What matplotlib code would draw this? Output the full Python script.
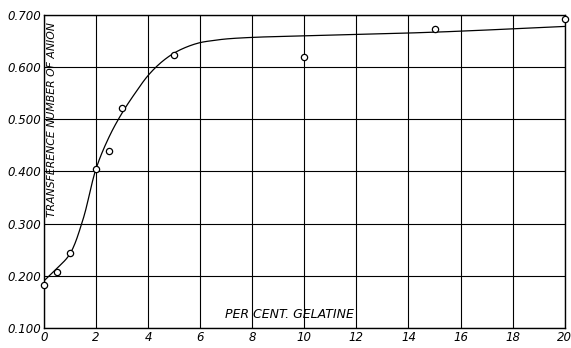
import matplotlib
matplotlib.use("Agg")
import matplotlib.pyplot as plt
import numpy as np

# measured points
gelatine_pct = [0, 0.5, 1, 2, 2.5, 3, 5, 10, 15, 20]
transference = [0.183, 0.208, 0.243, 0.405, 0.440, 0.522, 0.623, 0.620, 0.674, 0.692]

# hand-drawn smooth curve
curve_x = [0, 0.5, 1, 1.5, 2, 2.5, 3, 3.5, 4, 4.5, 5, 5.5, 6, 6.5, 7, 8, 10, 15, 20]
curve_y = [0.190, 0.214, 0.242, 0.308, 0.405, 0.466, 0.512, 0.550, 0.584, 0.609,
           0.627, 0.639, 0.647, 0.651, 0.654, 0.657, 0.660, 0.667, 0.678]

x_ticks = [0, 2, 4, 6, 8, 10, 12, 14, 16, 18, 20]
y_ticks = [0.1, 0.2, 0.3, 0.4, 0.5, 0.6, 0.7]
y_tick_labels = ["0.100", "0.200", "0.300", "0.400", "0.500", "0.600", "0.700"]


def catmull_rom(xs, ys, n=20):
    # centripetal Catmull-Rom through the knots, in screen-ish units
    sx, sy = 26.0, 521.7
    p = np.column_stack([np.array(xs) * sx, np.array(ys) * sy])
    p = np.vstack([2 * p[0] - p[1], p, 2 * p[-1] - p[-2]])
    out = []
    for i in range(1, len(p) - 2):
        p0, p1, p2, p3 = p[i - 1], p[i], p[i + 1], p[i + 2]
        t0 = 0.0
        t1 = t0 + np.linalg.norm(p1 - p0) ** 0.5
        t2 = t1 + np.linalg.norm(p2 - p1) ** 0.5
        t3 = t2 + np.linalg.norm(p3 - p2) ** 0.5
        for t in np.linspace(t1, t2, n, endpoint=False):
            a1 = (t1 - t) / (t1 - t0) * p0 + (t - t0) / (t1 - t0) * p1
            a2 = (t2 - t) / (t2 - t1) * p1 + (t - t1) / (t2 - t1) * p2
            a3 = (t3 - t) / (t3 - t2) * p2 + (t - t2) / (t3 - t2) * p3
            b1 = (t2 - t) / (t2 - t0) * a1 + (t - t0) / (t2 - t0) * a2
            b2 = (t3 - t) / (t3 - t1) * a2 + (t - t1) / (t3 - t1) * a3
            out.append((t2 - t) / (t2 - t1) * b1 + (t - t1) / (t2 - t1) * b2)
    out.append(p[-2])
    out = np.array(out)
    return out[:, 0] / sx, out[:, 1] / sy


fig = plt.figure(figsize=(5.71, 3.48), dpi=100)
ax = fig.add_axes([0.077, 0.058, 0.912, 0.899])

ax.set_xlim(0, 20)
ax.set_ylim(0.1, 0.7)
ax.set_xticks(x_ticks)
ax.set_xticklabels([str(v) for v in x_ticks], fontstyle="italic", fontsize=8.5)
ax.set_yticks(y_ticks)
ax.set_yticklabels(y_tick_labels, fontstyle="italic", fontsize=8.5)
ax.tick_params(length=0, pad=2)
ax.grid(True, color="black", linewidth=0.8)
for s in ax.spines.values():
    s.set_linewidth(1.0)

cx, cy = catmull_rom(curve_x, curve_y)
ax.plot(cx, cy, color="black", linewidth=0.9)
ax.plot(gelatine_pct, transference, "o", markersize=4.5,
        markerfacecolor="white", markeredgecolor="black", markeredgewidth=0.9,
        clip_on=False, zorder=3)

ax.text(6.95, 0.113, "PER CENT. GELATINE", fontstyle="italic", fontsize=9,
        ha="left", va="bottom")
ax.text(0.12, 0.50, "TRANSFERENCE NUMBER OF ANION", fontstyle="italic",
        fontsize=7.8, rotation=90, ha="left", va="center")

fig.savefig("out.png", dpi=100)
